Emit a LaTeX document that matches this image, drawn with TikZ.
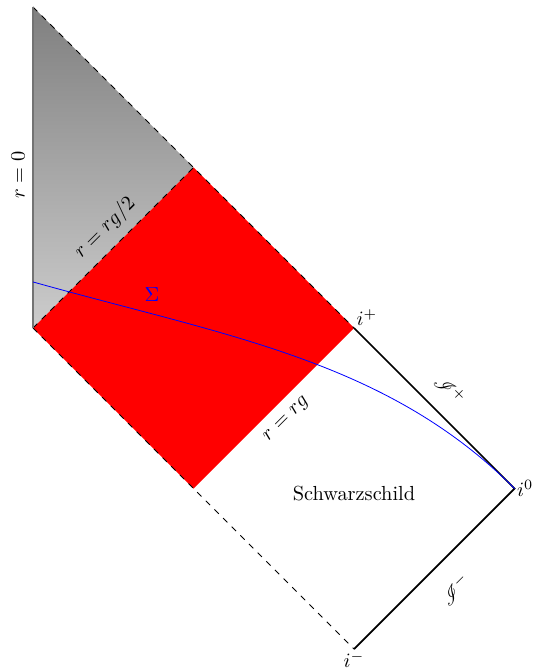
\documentclass[tikz,border=0pt]{standalone}
\usepackage{tikz}
\usepackage{mathrsfs}
\usetikzlibrary{positioning,calc}

\begin{document}
\begin{tikzpicture}[scale=2.77]
\useasboundingbox (-0.2056,-2.1246) rectangle (3.1340,2.0436);

\coordinate (top) at (0,2);
\coordinate (origin) at (0,0);
\coordinate (horizon) at (1,1);
\coordinate (iplus) at (2,0);
\coordinate (bottom) at (1,-1);
\coordinate (izero) at (3,-1);
\coordinate (iminus) at (2,-2);

\shade[top color=gray, bottom color=gray!40] (top) -- (horizon) -- (origin) -- cycle;
\fill[red] (origin) -- (horizon) -- (iplus) -- (bottom) -- cycle;

\draw[dashed] (top) -- (horizon) -- (iplus);
\draw[dashed] (origin) -- (horizon);
\draw[dashed] (origin) -- (bottom) -- (iminus);
\draw[thick, black!55] (top) -- (origin);
\draw[thick] (iplus) -- (izero) -- (iminus);

\draw[blue] (0,0.287) .. controls (1.2,-0.05) and (2.2,-0.2) .. (izero);

\node[rotate=90] (rzero) at (-0.093,0.953) {$r=0$};
\node[rotate=45] (rhalf) at (0.449,0.623) {$r=rg/2$};
\node[blue] (sigma) at (0.741,0.206) {$\Sigma$};
\node[anchor=south west, inner sep=1pt] (iplabel) at (iplus) {$i^+$};
\node[rotate=-45] (scriplus) at (2.60,-0.386) {$\mathscr{I}^+$};
\node[rotate=45] (rg) at (1.582,-0.573) {$r=rg$};
\node (schw) at (2,-1.03) {Schwarzschild};
\node[anchor=west, inner sep=1pt] (izlabel) at (izero) {$i^0$};
\node[rotate=45] (scriminus) at (2.63,-1.63) {$\mathscr{I}^-$};
\node[anchor=north, inner sep=1pt] (imlabel) at (iminus) {$i^-$};

\end{tikzpicture}
\end{document}
